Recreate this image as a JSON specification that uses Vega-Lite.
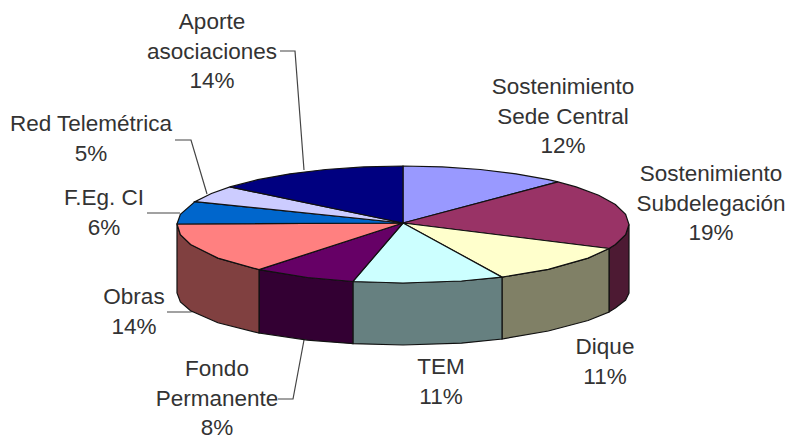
{"$schema":"https://vega.github.io/schema/vega-lite/v6.json","width":787,"height":438,"padding":0,"autosize":{"type":"none"},"background":"white","view":{"stroke":null},
"datasets":{"pieces":[
{"p":"Subdelegacion side","i":1,"x":629,"y":224.5},{"p":"Subdelegacion side","i":2,"x":625.6,"y":234.7},{"p":"Subdelegacion side","i":3,"x":615.4,"y":244.5},{"p":"Subdelegacion side","i":4,"x":609,"y":248.5},{"p":"Subdelegacion side","i":5,"x":609,"y":312},{"p":"Subdelegacion side","i":6,"x":615.4,"y":308},{"p":"Subdelegacion side","i":7,"x":625.6,"y":300},{"p":"Subdelegacion side","i":8,"x":629,"y":293},{"p":"Subdelegacion side","i":9,"x":629,"y":224.5},
{"p":"Dique side","i":1,"x":609,"y":248.5},{"p":"Dique side","i":2,"x":588.1,"y":258.1},{"p":"Dique side","i":3,"x":548.3,"y":269.3},{"p":"Dique side","i":4,"x":502,"y":277.1},{"p":"Dique side","i":5,"x":502,"y":339},{"p":"Dique side","i":6,"x":548.3,"y":331},{"p":"Dique side","i":7,"x":588.1,"y":320.5},{"p":"Dique side","i":8,"x":609,"y":312},{"p":"Dique side","i":9,"x":609,"y":248.5},
{"p":"TEM side","i":1,"x":502,"y":277.1},{"p":"TEM side","i":2,"x":461.5,"y":281},{"p":"TEM side","i":3,"x":403,"y":283},{"p":"TEM side","i":4,"x":352.9,"y":281.5},{"p":"TEM side","i":5,"x":352.9,"y":343.7},{"p":"TEM side","i":6,"x":403,"y":345},{"p":"TEM side","i":7,"x":461.5,"y":343.2},{"p":"TEM side","i":8,"x":502,"y":339},{"p":"TEM side","i":9,"x":502,"y":277.1},
{"p":"Fondo side","i":1,"x":352.9,"y":281.5},{"p":"Fondo side","i":2,"x":307.4,"y":277.5},{"p":"Fondo side","i":3,"x":259,"y":269.6},{"p":"Fondo side","i":4,"x":259,"y":333.1},{"p":"Fondo side","i":5,"x":307.4,"y":340.1},{"p":"Fondo side","i":6,"x":352.9,"y":343.7},{"p":"Fondo side","i":7,"x":352.9,"y":281.5},
{"p":"Obras side","i":1,"x":259,"y":269.6},{"p":"Obras side","i":2,"x":217.9,"y":258.1},{"p":"Obras side","i":3,"x":190.6,"y":244.5},{"p":"Obras side","i":4,"x":180.4,"y":234.7},{"p":"Obras side","i":5,"x":177,"y":224.5},{"p":"Obras side","i":6,"x":177,"y":293},{"p":"Obras side","i":7,"x":180.4,"y":302},{"p":"Obras side","i":8,"x":190.6,"y":310.8},{"p":"Obras side","i":9,"x":217.9,"y":322.8},{"p":"Obras side","i":10,"x":259,"y":333.1},{"p":"Obras side","i":11,"x":259,"y":269.6},
{"p":"Sede top","i":1,"x":403,"y":223},{"p":"Sede top","i":2,"x":403,"y":166},{"p":"Sede top","i":3,"x":442.2,"y":166.9},{"p":"Sede top","i":4,"x":480.3,"y":169.5},{"p":"Sede top","i":5,"x":516,"y":173.8},{"p":"Sede top","i":6,"x":548.3,"y":179.7},{"p":"Sede top","i":7,"x":558,"y":181.9},{"p":"Sede top","i":8,"x":403,"y":223},
{"p":"Subdelegacion top","i":1,"x":403,"y":223},{"p":"Subdelegacion top","i":2,"x":558,"y":181.9},{"p":"Subdelegacion top","i":3,"x":576.1,"y":186.9},{"p":"Subdelegacion top","i":4,"x":598.7,"y":195.3},{"p":"Subdelegacion top","i":5,"x":615.4,"y":204.5},{"p":"Subdelegacion top","i":6,"x":625.6,"y":214.3},{"p":"Subdelegacion top","i":7,"x":629,"y":224.5},{"p":"Subdelegacion top","i":8,"x":625.6,"y":234.7},{"p":"Subdelegacion top","i":9,"x":615.4,"y":244.5},{"p":"Subdelegacion top","i":10,"x":609,"y":248.5},{"p":"Subdelegacion top","i":11,"x":403,"y":223},
{"p":"Dique top","i":1,"x":403,"y":223},{"p":"Dique top","i":2,"x":609,"y":248.5},{"p":"Dique top","i":3,"x":588.1,"y":258.1},{"p":"Dique top","i":4,"x":548.3,"y":269.3},{"p":"Dique top","i":5,"x":502,"y":277.1},{"p":"Dique top","i":6,"x":403,"y":223},
{"p":"TEM top","i":1,"x":403,"y":223},{"p":"TEM top","i":2,"x":502,"y":277.1},{"p":"TEM top","i":3,"x":461.5,"y":281},{"p":"TEM top","i":4,"x":403,"y":283},{"p":"TEM top","i":5,"x":352.9,"y":281.5},{"p":"TEM top","i":6,"x":403,"y":223},
{"p":"Fondo top","i":1,"x":403,"y":223},{"p":"Fondo top","i":2,"x":352.9,"y":281.5},{"p":"Fondo top","i":3,"x":307.4,"y":277.5},{"p":"Fondo top","i":4,"x":259,"y":269.6},{"p":"Fondo top","i":5,"x":403,"y":223},
{"p":"Obras top","i":1,"x":403,"y":223},{"p":"Obras top","i":2,"x":259,"y":269.6},{"p":"Obras top","i":3,"x":217.9,"y":258.1},{"p":"Obras top","i":4,"x":190.6,"y":244.5},{"p":"Obras top","i":5,"x":180.4,"y":234.7},{"p":"Obras top","i":6,"x":177,"y":224},{"p":"Obras top","i":7,"x":403,"y":223},
{"p":"FEg top","i":1,"x":403,"y":223},{"p":"FEg top","i":2,"x":177,"y":224},{"p":"FEg top","i":3,"x":180.4,"y":214.3},{"p":"FEg top","i":4,"x":195,"y":201.6},{"p":"FEg top","i":5,"x":403,"y":223},
{"p":"Red top","i":1,"x":403,"y":223},{"p":"Red top","i":2,"x":195,"y":201.6},{"p":"Red top","i":3,"x":211.4,"y":193.5},{"p":"Red top","i":4,"x":229.9,"y":186.9},{"p":"Red top","i":5,"x":403,"y":223},
{"p":"Aporte top","i":1,"x":403,"y":223},{"p":"Aporte top","i":2,"x":229.9,"y":186.9},{"p":"Aporte top","i":3,"x":257.7,"y":179.7},{"p":"Aporte top","i":4,"x":290,"y":173.8},{"p":"Aporte top","i":5,"x":325.7,"y":169.5},{"p":"Aporte top","i":6,"x":363.8,"y":166.9},{"p":"Aporte top","i":7,"x":403,"y":166},{"p":"Aporte top","i":8,"x":403,"y":223}
],
"leaders":[
{"name":"Aporte","i":1,"x":280,"y":51},{"name":"Aporte","i":2,"x":295,"y":51},{"name":"Aporte","i":3,"x":304,"y":170},
{"name":"Red","i":1,"x":175,"y":140},{"name":"Red","i":2,"x":191,"y":140},{"name":"Red","i":3,"x":207,"y":194},
{"name":"FEg","i":1,"x":147,"y":213},{"name":"FEg","i":2,"x":180,"y":213},
{"name":"Obras","i":1,"x":167,"y":312},{"name":"Obras","i":2,"x":190,"y":312},{"name":"Obras","i":3,"x":197,"y":311},
{"name":"Fondo","i":1,"x":278,"y":399},{"name":"Fondo","i":2,"x":293,"y":399},{"name":"Fondo","i":3,"x":304,"y":340}
],
"labels":[
{"label":"Aporte\nasociaciones\n14%","pct":14,"x":212,"y":22},
{"label":"Sostenimiento\nSede Central\n12%","pct":12,"x":563,"y":87},
{"label":"Sostenimiento\nSubdelegación\n19%","pct":19,"x":711,"y":174},
{"label":"Dique\n11%","pct":11,"x":605,"y":347},
{"label":"TEM\n11%","pct":11,"x":441,"y":367},
{"label":"Fondo\nPermanente\n8%","pct":8,"x":217,"y":369},
{"label":"Obras\n14%","pct":14,"x":134,"y":297},
{"label":"F.Eg. CI\n6%","pct":6,"x":104,"y":198},
{"label":"Red Telemétrica\n5%","pct":5,"x":91,"y":124}
]},
"encoding":{
"x":{"field":"x","type":"quantitative","axis":null,"scale":{"domain":[0,787],"nice":false,"zero":false}},
"y":{"field":"y","type":"quantitative","axis":null,"scale":{"domain":[438,0],"nice":false,"zero":false}}
},
"layer":[
{"data":{"name":"leaders"},"mark":{"type":"line","stroke":"#444444","strokeWidth":1.2},"encoding":{"detail":{"field":"name"},"order":{"field":"i","type":"quantitative"}}},
{"data":{"name":"pieces"},"mark":{"type":"line","stroke":"#111111","strokeWidth":1.2},"encoding":{"detail":{"field":"p"},"order":{"field":"i","type":"quantitative"},
"fill":{"field":"p","type":"nominal","legend":null,"scale":{"domain":["Subdelegacion side","Dique side","TEM side","Fondo side","Obras side","Sede top","Subdelegacion top","Dique top","TEM top","Fondo top","Obras top","FEg top","Red top","Aporte top"],"range":["#4d1a33","#808066","#668080","#330033","#804040","#9999ff","#993366","#ffffcc","#ccffff","#660066","#ff8080","#0066cc","#ccccff","#000080"]}}}},
{"data":{"name":"labels"},"mark":{"type":"text","font":"Liberation Sans","fontSize":22.5,"fill":"#333333","align":"center","baseline":"middle","lineBreak":"\n","lineHeight":29.5},"encoding":{"text":{"field":"label"}}}
]}
